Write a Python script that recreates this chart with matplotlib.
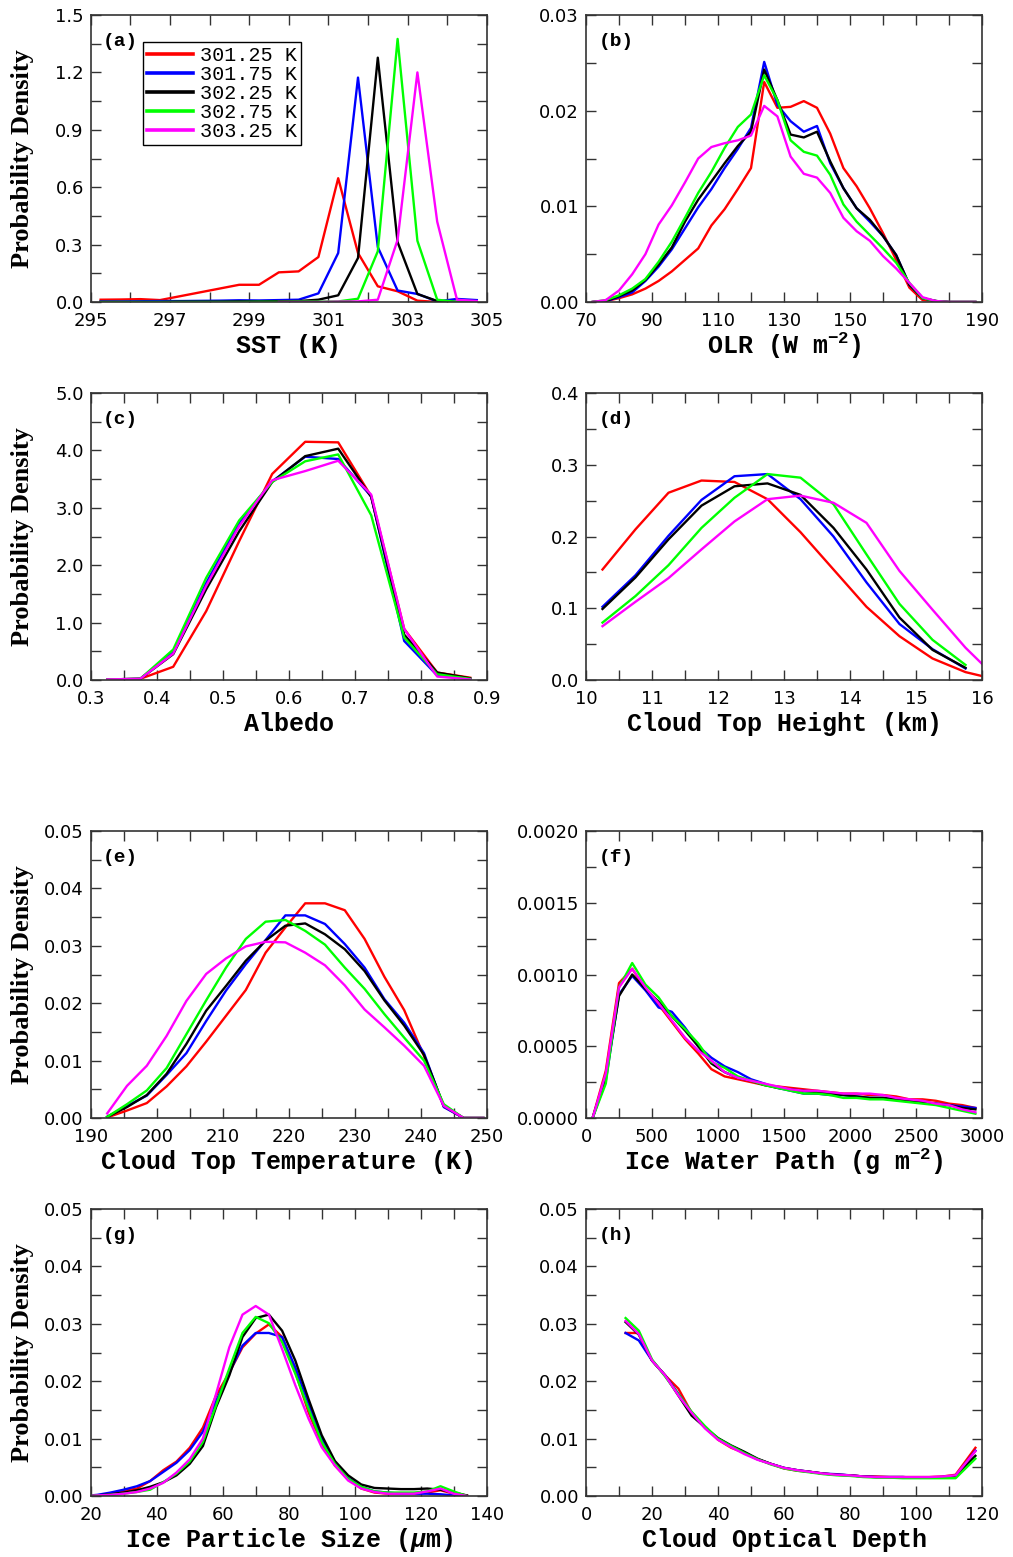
import matplotlib
matplotlib.use('Agg')
import matplotlib.pyplot as plt
from matplotlib.ticker import MultipleLocator, FormatStrFormatter
import numpy as np

plt.rcParams['font.family'] = ['DejaVu Sans']
plt.rcParams['mathtext.fontset'] = 'custom'
plt.rcParams['mathtext.rm'] = 'Liberation Mono:bold'
plt.rcParams['mathtext.it'] = 'Liberation Mono:italic:bold'
plt.rcParams['mathtext.bf'] = 'Liberation Mono:bold'

nan = np.nan
series_labels = ['301.25 K', '301.75 K', '302.25 K', '302.75 K', '303.25 K']
series_colors = ['#ff0000', '#0000ff', '#000000', '#00ff00', '#ff00ff']

# (a) SST
sst_x = [295.25, 295.75, 296.25, 296.75, 297.25, 297.75, 298.25, 298.75, 299.25, 299.75,
         300.25, 300.75, 301.25, 301.75, 302.25, 302.75, 303.25, 303.75, 304.25, 304.75]
sst_red = [0.012, 0.013, 0.015, 0.010, 0.030, 0.050, 0.070, 0.090, 0.090, 0.155,
           0.160, 0.235, 0.647, 0.256, 0.082, 0.056, 0.007, 0.0, 0.0, 0.0]
sst_blue = [0.003, 0.003, 0.004, 0.005, 0.005, 0.006, 0.007, 0.009, 0.008, 0.010,
            0.012, 0.045, 0.256, 1.173, 0.287, 0.060, 0.042, 0.003, 0.016, 0.010]
sst_black = [0.0, 0.0, 0.0, 0.0, 0.002, 0.002, 0.002, 0.003, 0.003, 0.004,
             0.005, 0.012, 0.035, 0.230, 1.277, 0.313, 0.042, 0.005, 0.0, 0.0]
sst_green = [0.0, 0.0, 0.0, 0.0, 0.0, 0.0, 0.0, 0.0, 0.001, 0.001,
             0.002, 0.002, 0.003, 0.017, 0.265, 1.375, 0.320, 0.012, 0.0, 0.0]
sst_magenta = [nan, nan, nan, nan, nan, nan, nan, nan, nan, 0.0,
               0.0, 0.0, 0.002, 0.003, 0.012, 0.325, 1.200, 0.420, 0.012, 0.005]

# (b) OLR
olr_x = [72, 76, 80, 84, 88, 92, 96, 100, 104, 108, 112, 116, 120, 124, 128,
         132, 136, 140, 144, 148, 152, 156, 160, 164, 168, 172, 176, 180, 184, 188]
olr_red = [0, 0.0001, 0.0004, 0.0008, 0.0014, 0.0022, 0.0032, 0.0044, 0.0056, 0.0080,
           0.0097, 0.0118, 0.0140, 0.0230, 0.0203, 0.0204, 0.0210, 0.0203, 0.0176, 0.0140,
           0.0121, 0.0098, 0.0072, 0.0044, 0.0015, 0.0002, 0.0001, 0, 0, 0]
olr_blue = [0, 0.0001, 0.0005, 0.0010, 0.0022, 0.0037, 0.0055, 0.0077, 0.0099, 0.0118,
            0.0140, 0.0160, 0.0182, 0.0251, 0.0206, 0.0189, 0.0178, 0.0184, 0.0145, 0.0119,
            0.0098, 0.0084, 0.0069, 0.0049, 0.0018, 0.0004, 0.0001, 0, 0, 0]
olr_black = [0, 0.0001, 0.0006, 0.0012, 0.0023, 0.0039, 0.0057, 0.0084, 0.0107, 0.0126,
             0.0145, 0.0163, 0.0178, 0.0243, 0.0211, 0.0175, 0.0172, 0.0178, 0.0147, 0.0119,
             0.0098, 0.0086, 0.0069, 0.0049, 0.0018, 0.0004, 0.0001, 0, 0, 0]
olr_green = [0, 0.0002, 0.0007, 0.0014, 0.0024, 0.0042, 0.0063, 0.0088, 0.0114, 0.0136,
             0.0161, 0.0183, 0.0196, 0.0237, 0.0211, 0.0169, 0.0157, 0.0153, 0.0133, 0.0102,
             0.0084, 0.0070, 0.0056, 0.0041, 0.0020, 0.0004, 0.0001, 0, 0, 0]
olr_magenta = [0, 0.0002, 0.0012, 0.0029, 0.0050, 0.0081, 0.0101, 0.0125, 0.0150, 0.0162,
               0.0166, 0.0169, 0.0174, 0.0205, 0.0194, 0.0152, 0.0134, 0.0130, 0.0114, 0.0088,
               0.0074, 0.0064, 0.0048, 0.0035, 0.0020, 0.0005, 0.0001, 0, 0, 0]

# (c) Albedo
alb_x = [0.325, 0.375, 0.425, 0.475, 0.525, 0.575, 0.625, 0.675, 0.725, 0.775, 0.825, 0.875]
alb_red = [0.01, 0.02, 0.23, 1.20, 2.42, 3.59, 4.15, 4.14, 3.20, 0.89, 0.13, 0.04]
alb_blue = [0.01, 0.02, 0.48, 1.69, 2.74, 3.46, 3.89, 3.85, 3.20, 0.68, 0.08, 0.02]
alb_black = [0.01, 0.02, 0.45, 1.58, 2.59, 3.45, 3.90, 4.03, 3.19, 0.79, 0.13, 0.03]
alb_green = [0.01, 0.02, 0.53, 1.78, 2.78, 3.45, 3.81, 3.93, 2.87, 0.74, 0.10, 0.02]
alb_magenta = [0.01, 0.02, 0.46, 1.64, 2.68, 3.48, 3.64, 3.82, 3.23, 0.89, 0.06, 0.01]

# (d) Cloud top height
cth_x = [10.25, 10.75, 11.25, 11.75, 12.25, 12.75, 13.25, 13.75, 14.25, 14.75, 15.25, 15.75, 16.25]
cth_red = [0.154, 0.210, 0.261, 0.278, 0.276, 0.252, 0.206, 0.154, 0.102, 0.061, 0.030, 0.011, 0.0]
cth_blue = [0.102, 0.146, 0.201, 0.251, 0.284, 0.287, 0.252, 0.200, 0.136, 0.078, 0.043, 0.016, nan]
cth_black = [0.099, 0.143, 0.196, 0.243, 0.270, 0.274, 0.258, 0.212, 0.154, 0.087, 0.042, 0.017, nan]
cth_green = [0.080, 0.117, 0.160, 0.212, 0.254, 0.287, 0.282, 0.245, 0.175, 0.106, 0.056, 0.021, nan]
cth_magenta = [0.075, 0.109, 0.142, 0.182, 0.221, 0.252, 0.257, 0.247, 0.219, 0.152, 0.098, 0.045, 0.0]

# (e) Cloud top temperature
ctt_x = [192.5, 195.5, 198.5, 201.5, 204.5, 207.5, 210.5, 213.5, 216.5, 219.5,
         222.5, 225.5, 228.5, 231.5, 234.5, 237.5, 240.5, 243.5, 246.5, 249.5]
ctt_red = [0.0001, 0.0013, 0.0026, 0.0055, 0.0090, 0.0133, 0.0178, 0.0223, 0.0288, 0.0332,
           0.0374, 0.0374, 0.0362, 0.0312, 0.0246, 0.0188, 0.0108, 0.0020, 0.0, 0.0]
ctt_blue = [0.0002, 0.0021, 0.0039, 0.0075, 0.0113, 0.0169, 0.0222, 0.0268, 0.0310, 0.0353,
            0.0353, 0.0338, 0.0303, 0.0262, 0.0207, 0.0166, 0.0113, 0.0019, 0.0, 0.0]
ctt_black = [0.0002, 0.0019, 0.0040, 0.0077, 0.0129, 0.0187, 0.0230, 0.0274, 0.0309, 0.0335,
             0.0339, 0.0320, 0.0294, 0.0256, 0.0205, 0.0161, 0.0110, 0.0021, 0.0, 0.0]
ctt_green = [0.0002, 0.0024, 0.0048, 0.0087, 0.0146, 0.0205, 0.0262, 0.0312, 0.0342, 0.0345,
             0.0326, 0.0302, 0.0262, 0.0225, 0.0181, 0.0140, 0.0100, 0.0024, 0.0, 0.0]
ctt_magenta = [0.0008, 0.0056, 0.0091, 0.0143, 0.0204, 0.0251, 0.0278, 0.0299, 0.0307, 0.0306,
               0.0288, 0.0266, 0.0231, 0.0189, 0.0158, 0.0126, 0.0091, 0.0021, 0.0, 0.0]

# (f) Ice water path
iwp_x = [50, 150, 250, 350, 450, 550, 650, 750, 850, 950,
         1050, 1150, 1250, 1350, 1450, 1550, 1650, 1750, 1850, 1950,
         2050, 2150, 2250, 2350, 2450, 2550, 2650, 2750, 2850, 2950]
iwp_red = [0, .00033, .00094, .00104, .00090, .00079, .00067, .00055, .00045, .00034,
           .00029, .00027, .00025, .00023, .00022, .00021, .00020, .00019, .00018, .00017,
           .00017, .00016, .00016, .00015, .00013, .00013, .00012, .00010, .00009, .00007]
iwp_blue = [0, .00026, .00086, .00099, .00089, .00077, .00074, .00063, .00050, .00042,
            .00036, .00032, .00027, .00024, .00021, .00019, .00017, .00017, .00016, .00016,
            .00015, .00014, .00014, .00013, .00012, .00011, .00010, .00009, .00008, .00007]
iwp_black = [0, .00029, .00085, .00100, .00090, .00081, .00071, .00061, .00050, .00038,
             .00032, .00028, .00026, .00023, .00021, .00020, .00019, .00018, .00017, .00016,
             .00015, .00014, .00014, .00013, .00012, .00011, .00010, .00009, .00007, .00006]
iwp_green = [0, .00024, .00091, .00108, .00093, .00084, .00071, .00062, .00052, .00039,
             .00035, .00029, .00026, .00023, .00021, .00019, .00017, .00017, .00016, .00014,
             .00014, .00013, .00013, .00012, .00011, .00010, .00009, .00007, .00005, .00003]
iwp_magenta = [0, .00031, .00091, .00104, .00091, .00080, .00068, .00056, .00047, .00040,
               .00032, .00028, .00026, .00024, .00022, .00020, .00019, .00019, .00018, .00017,
               .00017, .00017, .00016, .00014, .00013, .00012, .00010, .00009, .00006, .00004]

# (g) Ice particle size
ips_x = [18, 22, 26, 30, 34, 38, 42, 46, 50, 54, 58, 62, 66, 70, 74, 78,
         82, 86, 90, 94, 98, 102, 106, 110, 114, 118, 122, 126, 130, 134]
ips_red = [0.0, .0001, .0004, .0009, .0013, .0026, .0045, .0060, .0084, .0119, .0175, .0215, .0259, .0283, .0299,
           .0277, .0216, .0146, .0091, .0053, .0029, .0013, .0006, .0004, .0004, .0004, .0006, .0010, .0004, .0001]
ips_blue = [0.0, .0002, .0006, .0011, .0017, .0026, .0042, .0058, .0080, .0112, .0165, .0215, .0262, .0284, .0284,
            .0277, .0224, .0161, .0100, .0059, .0031, .0016, .0008, .0006, .0004, .0004, .0004, .0003, .0001, .0]
ips_black = [0.0, .0001, .0003, .0006, .0010, .0016, .0024, .0036, .0056, .0087, .0155, .0210, .0277, .0310, .0316,
             .0288, .0236, .0169, .0106, .0061, .0036, .0020, .0014, .0013, .0012, .0012, .0013, .0011, .0006, .0001]
ips_green = [0.0, .0001, .0002, .0004, .0007, .0011, .0024, .0039, .0060, .0094, .0158, .0222, .0284, .0312, .0301,
             .0268, .0213, .0152, .0094, .0056, .0030, .0016, .0008, .0006, .0006, .0006, .0008, .0017, .0008, .0]
ips_magenta = [0.0, .0001, .0002, .0004, .0007, .0013, .0023, .0041, .0064, .0100, .0178, .0259, .0316, .0331, .0316,
               .0256, .0193, .0135, .0085, .0053, .0027, .0013, .0007, .0004, .0004, .0004, .0008, .0013, .0004, .0]

# (h) Cloud optical depth
cod_x = [12, 16, 20, 24, 28, 32, 36, 40, 44, 48, 52, 56, 60, 64, 68, 72, 76, 80,
         84, 88, 92, 96, 100, 104, 108, 112, 118]
cod_red = [.0284, .0284, .0236, .0210, .0187, .0145, .0120, .0098, .0084, .0075,
           .0064, .0056, .0048, .0044, .0042, .0039, .0037, .0036, .0034, .0034,
           .0033, .0033, .0033, .0033, .0034, .0037, .0084]
cod_blue = [.0284, .0271, .0236, .0210, .0178, .0145, .0120, .0100, .0087, .0076,
            .0064, .0056, .0049, .0045, .0042, .0039, .0038, .0036, .0034, .0033,
            .0033, .0033, .0032, .0032, .0033, .0035, .0079]
cod_black = [.0303, .0281, .0236, .0210, .0175, .0140, .0120, .0101, .0088, .0077,
             .0065, .0056, .0049, .0045, .0042, .0039, .0037, .0036, .0034, .0033,
             .0033, .0033, .0032, .0032, .0033, .0035, .0070]
cod_green = [.0310, .0288, .0238, .0208, .0177, .0147, .0122, .0100, .0087, .0075,
             .0064, .0055, .0048, .0044, .0041, .0038, .0036, .0035, .0033, .0032,
             .0032, .0031, .0031, .0031, .0031, .0031, .0065]
cod_magenta = [.0305, .0282, .0236, .0210, .0175, .0145, .0118, .0098, .0085, .0073,
               .0063, .0056, .0049, .0045, .0042, .0039, .0037, .0036, .0034, .0033,
               .0033, .0033, .0033, .0033, .0034, .0036, .0078]

panels = [
    dict(tag='(a)', x=sst_x, ys=[sst_red, sst_blue, sst_black, sst_green, sst_magenta],
         xlim=(295, 305), ylim=(0, 1.5), xmaj=(2, 1), xmin=1, ymaj=0.3, ymin=0.15,
         xfmt='%d', yfmt='%.1f', xlabel='SST (K)'),
    dict(tag='(b)', x=olr_x, ys=[olr_red, olr_blue, olr_black, olr_green, olr_magenta],
         xlim=(70, 190), ylim=(0, 0.03), xmaj=(20, 10), xmin=10, ymaj=0.01, ymin=0.005,
         xfmt='%d', yfmt='%.2f', xlabel='OLR (W m$^{-2}$)'),
    dict(tag='(c)', x=alb_x, ys=[alb_red, alb_blue, alb_black, alb_green, alb_magenta],
         xlim=(0.3, 0.9), ylim=(0, 5.0), xmaj=(0.1, 0), xmin=0.05, ymaj=1.0, ymin=0.5,
         xfmt='%.1f', yfmt='%.1f', xlabel='Albedo'),
    dict(tag='(d)', x=cth_x, ys=[cth_red, cth_blue, cth_black, cth_green, cth_magenta],
         xlim=(10, 16), ylim=(0, 0.4), xmaj=(1, 0), xmin=0.5, ymaj=0.1, ymin=0.05,
         xfmt='%d', yfmt='%.1f', xlabel='Cloud Top Height (km)'),
    dict(tag='(e)', x=ctt_x, ys=[ctt_red, ctt_blue, ctt_black, ctt_green, ctt_magenta],
         xlim=(190, 250), ylim=(0, 0.05), xmaj=(10, 0), xmin=5, ymaj=0.01, ymin=0.005,
         xfmt='%d', yfmt='%.2f', xlabel='Cloud Top Temperature (K)'),
    dict(tag='(f)', x=iwp_x, ys=[iwp_red, iwp_blue, iwp_black, iwp_green, iwp_magenta],
         xlim=(0, 3000), ylim=(0, 0.002), xmaj=(500, 0), xmin=250, ymaj=0.0005, ymin=0.00025,
         xfmt='%d', yfmt='%.4f', xlabel='Ice Water Path (g m$^{-2}$)'),
    dict(tag='(g)', x=ips_x, ys=[ips_red, ips_blue, ips_black, ips_green, ips_magenta],
         xlim=(20, 140), ylim=(0, 0.05), xmaj=(20, 0), xmin=10, ymaj=0.01, ymin=0.005,
         xfmt='%d', yfmt='%.2f', xlabel='Ice Particle Size ($\\mu$m)'),
    dict(tag='(h)', x=cod_x, ys=[cod_red, cod_blue, cod_black, cod_green, cod_magenta],
         xlim=(0, 120), ylim=(0, 0.05), xmaj=(20, 0), xmin=10, ymaj=0.01, ymin=0.005,
         xfmt='%d', yfmt='%.2f', xlabel='Cloud Optical Depth'),
]

W, H = 1013, 1557
fig = plt.figure(figsize=(W / 100, H / 100), dpi=100)
col_left = [90.7, 586.0]
row_bottom = [302, 680, 1118, 1496]
aw, ah = 396.0, 287.0
frame_col = '#333333'

for i, p in enumerate(panels):
    r, c = divmod(i, 2)
    ax = fig.add_axes([col_left[c] / W, 1 - row_bottom[r] / H, aw / W, ah / H])
    for y, col, lab in zip(p['ys'], series_colors, series_labels):
        ax.plot(p['x'], y, color=col, lw=1.7, label=lab)
    ax.set_xlim(*p['xlim'])
    ax.set_ylim(*p['ylim'])
    ax.xaxis.set_major_locator(MultipleLocator(p['xmaj'][0], offset=p['xmaj'][1]))
    ax.xaxis.set_minor_locator(MultipleLocator(p['xmin']))
    ax.yaxis.set_major_locator(MultipleLocator(p['ymaj']))
    ax.yaxis.set_minor_locator(MultipleLocator(p['ymin']))
    ax.xaxis.set_major_formatter(FormatStrFormatter(p['xfmt']))
    ax.yaxis.set_major_formatter(FormatStrFormatter(p['yfmt']))
    ax.tick_params(which='both', direction='in', top=True, right=True,
                   length=7, width=1.0, color=frame_col)
    ax.tick_params(axis='x', which='major', pad=7, labelsize=13)
    ax.tick_params(axis='y', which='major', pad=5, labelsize=13)
    for s in ax.spines.values():
        s.set_color(frame_col)
        s.set_linewidth(1.2)
    ax.set_xlabel(p['xlabel'], family='Liberation Mono', weight='bold', fontsize=18,
                  va='center')
    ax.xaxis.set_label_coords(0.5, -0.152)
    if c == 0:
        ax.set_ylabel('Probability Density', family='Liberation Serif', weight='bold',
                      fontsize=19, va='center')
        ax.yaxis.set_label_coords(-0.172, 0.5)
    ax.text(0.031, 0.909, p['tag'], transform=ax.transAxes, family='Liberation Mono',
            weight='bold', fontsize=14, ha='left', va='center')
    if i == 0:
        leg = ax.legend(loc='upper left', bbox_to_anchor=(0.132, 0.906), borderaxespad=0,
                        prop={'family': 'Liberation Mono', 'size': 14.5},
                        frameon=True, fancybox=False, framealpha=1, edgecolor='black',
                        handlelength=2.3, handletextpad=0.35, labelspacing=0.0,
                        borderpad=0.2)
        leg.get_frame().set_linewidth(1.0)
        for ln in leg.get_lines():
            ln.set_linewidth(2.6)

fig.savefig('out.png', dpi=100)
